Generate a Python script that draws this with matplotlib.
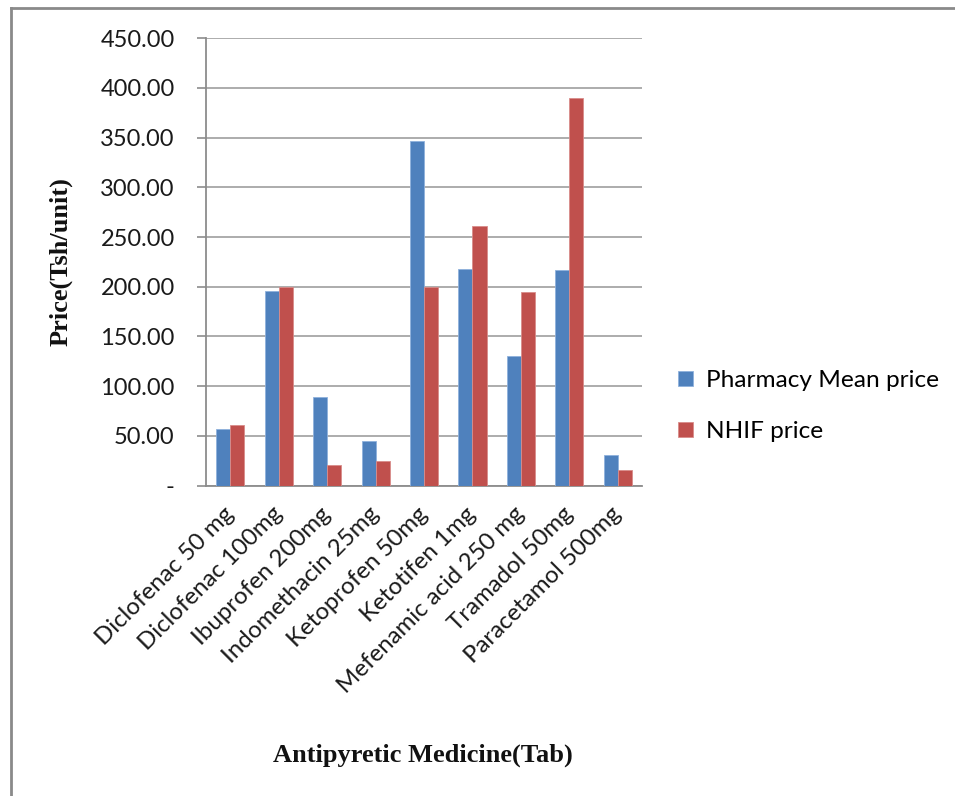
import matplotlib
matplotlib.use("Agg")
import matplotlib.pyplot as plt
import numpy as np
from matplotlib.lines import Line2D
from matplotlib.transforms import ScaledTranslation

# Antipyretic medicines and their unit prices (Tsh)
medicines = [
    "Diclofenac 50 mg", "Diclofenac 100mg", "Ibuprofen 200mg",
    "Indomethacin 25mg", "Ketoprofen 50mg", "Ketotifen 1mg",
    "Mefenamic acid 250 mg", "Tramadol 50mg", "Paracetamol 500mg",
]
pharmacy_mean = [57, 196, 89, 45, 347, 218, 130, 217, 31]
nhif_price = [61, 200, 21, 25, 200, 261, 195, 390, 16]

y_ticks = [0, 50, 100, 150, 200, 250, 300, 350, 400, 450]
y_tick_labels = ["-", "50.00", "100.00", "150.00", "200.00", "250.00",
                 "300.00", "350.00", "400.00", "450.00"]

SANS = ["Lato", "DejaVu Sans"]
SERIF = ["Liberation Serif", "DejaVu Serif"]
BLUE = "#4F81BD"
RED = "#C0504D"
GRID = "#A6A6A6"
AXIS = "#8C8C8C"

fig = plt.figure(figsize=(9.55, 7.96), dpi=100)
ax = fig.add_axes([0.2157, 0.390, 0.4566, 0.5619])

x = np.arange(len(medicines))
w = 0.29
ax.bar(x - w / 2, pharmacy_mean, w, color=BLUE, edgecolor="#8FB1DC",
       linewidth=0.6, label="Pharmacy Mean price", zorder=3)
ax.bar(x + w / 2, nhif_price, w, color=RED, edgecolor="#D98C8A",
       linewidth=0.6, label="NHIF price", zorder=3)

ax.set_xlim(-0.5, len(medicines) - 0.5)
ax.set_ylim(0, 450)
ax.set_yticks(y_ticks)
ax.set_yticklabels(y_tick_labels, fontfamily=SANS, fontsize=17, color="#1a1a1a")
ax.yaxis.grid(True, color=GRID, linewidth=1.3, zorder=0)
ax.set_axisbelow(True)

# the accounting-style dash for zero sits left of the decimals
zero_lab = ax.get_yticklabels()[0]
zero_lab.set_transform(zero_lab.get_transform() +
                       ScaledTranslation(-12 / 72, 0, fig.dpi_scale_trans))

ax.set_xticks(x)
ax.set_xticklabels(medicines, rotation=45, ha="right", va="center",
                   rotation_mode="anchor", fontfamily=SANS, fontsize=17.3,
                   color="#1a1a1a")

ax.tick_params(axis="y", length=6.5, width=1.2, color=AXIS, pad=16)
ax.tick_params(axis="x", length=0, pad=18)

for side in ("top", "right"):
    ax.spines[side].set_visible(False)
for side in ("left", "bottom"):
    ax.spines[side].set_color(AXIS)
    ax.spines[side].set_linewidth(1.3)

fig.text(0.064, 1 - 262 / 796, "Price(Tsh/unit)", rotation=90,
         fontfamily=SERIF, fontweight="bold", fontsize=19,
         ha="center", va="center", color="#111111")
fig.text(423 / 955, 1 - 755 / 796, "Antipyretic Medicine(Tab)",
         fontfamily=SERIF, fontweight="bold", fontsize=19,
         ha="center", va="center", color="#111111")

ax.legend(loc="center left", bbox_to_anchor=(678 / 955, 1 - 406 / 796),
          bbox_transform=fig.transFigure, frameon=False,
          prop={"family": SANS, "size": 17.6}, handlelength=0.6,
          handleheight=0.6, handletextpad=0.55, labelspacing=1.22,
          borderpad=0, borderaxespad=0)

# outer chart border (left and top edges)
bx = 11 / 955
by = 1 - 8 / 796
fig.add_artist(Line2D([bx, bx], [0, by], transform=fig.transFigure,
                      color="#8A8A8A", linewidth=2))
fig.add_artist(Line2D([bx, 1], [by, by], transform=fig.transFigure,
                      color="#8A8A8A", linewidth=2))

fig.savefig("out.png", dpi=100, facecolor="white")
